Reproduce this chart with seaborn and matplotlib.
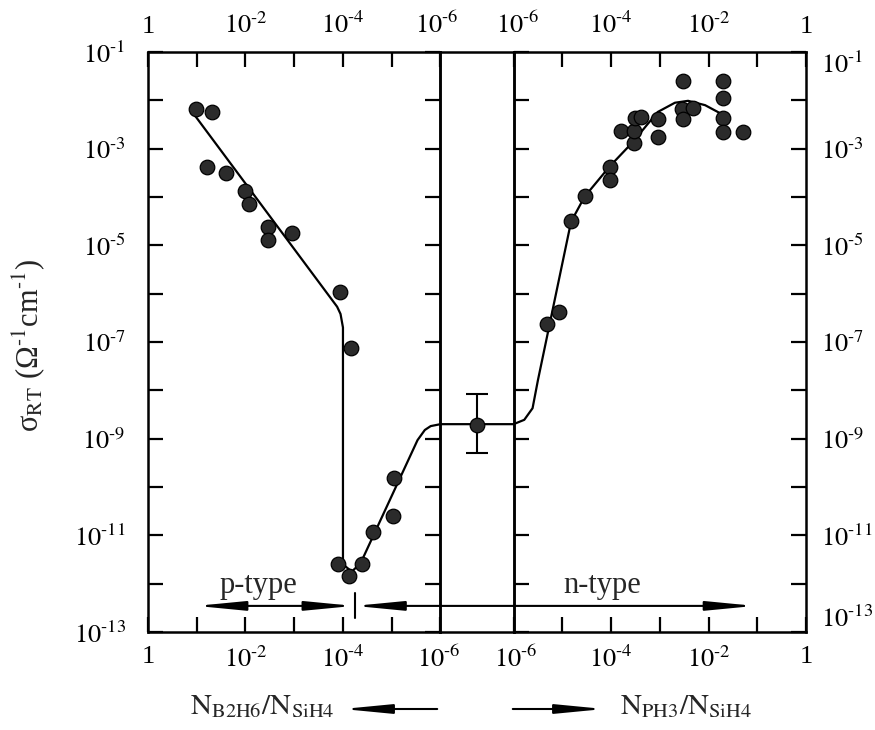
import numpy as np
import pandas as pd
import matplotlib
matplotlib.use("Agg")
import matplotlib.pyplot as plt
from matplotlib.ticker import FixedLocator, NullLocator, FixedFormatter
from matplotlib.transforms import ScaledTranslation
import seaborn as sns

# ---------------- data (log10 values) ----------------
# B2H6-doped films (p side): log10(N_B2H6/N_SiH4) and log10(sigma_RT)
b_log_ratio = [-0.99, -1.31, -1.22, -1.60, -1.98, -2.08, -2.46, -2.46, -2.96, -3.94, -4.16,
               -3.90, -4.12, -4.40, -4.62, -5.03, -5.05]
b_log_sigma = [-2.17, -2.25, -3.37, -3.50, -3.88, -4.15, -4.63, -4.88, -4.75, -5.96, -7.12,
               -11.60, -11.85, -11.60, -10.94, -10.60, -9.82]

# PH3-doped films (n side): log10(N_PH3/N_SiH4) and log10(sigma_RT)
p_log_ratio = [-5.31, -5.06, -4.82, -4.54, -4.03, -4.03, -3.53, -3.79, -3.53, -3.50, -3.38,
               -3.04, -3.04, -2.52, -2.54, -2.31, -2.52, -1.70, -1.70, -1.70, -1.70, -1.29]
p_log_sigma = [-6.63, -6.37, -4.50, -3.98, -3.37, -3.65, -2.89, -2.63, -2.63, -2.37, -2.35,
               -2.39, -2.75, -1.61, -2.17, -2.15, -2.39, -1.61, -1.96, -2.37, -2.65, -2.65]

# undoped film (with error bar)
undoped_log_sigma = -8.72
undoped_log_err = [-9.29, -8.08]

# guide curves
b_curve_log_ratio = [-0.90, -3.88, -3.95, -4.00, -4.00, -4.18, -4.36, -5.53, -5.68, -5.80, -6.00]
b_curve_log_sigma = [-2.23, -6.27, -6.42, -6.70, -11.60, -11.75, -11.58, -9.03, -8.82, -8.74, -8.70]
p_curve_log_ratio = [-6.00, -5.78, -5.61, -5.50, -4.82, -4.54, -4.03, -3.55, -3.24, -3.04,
                     -2.69, -2.42, -2.07, -1.70]
p_curve_log_sigma = [-8.70, -8.61, -8.37, -7.79, -4.51, -3.99, -3.37, -2.86, -2.48, -2.24,
                     -2.05, -2.01, -2.10, -2.30]

# conduction-type ranges (log10 ratio limits) and their level
ptype_b_range = [-0.99, -4.22]
ntype_b_start = -4.22
ntype_p_end = -1.05
type_arrow_log_sigma = -12.46
type_text_log_sigma = -12.19
ptype_text_b = -2.27
ntype_text_p = -4.18

# tick labels
x_tick_labels_b = ["1", "", r"$10^{\text{-}2}$", "", r"$10^{\text{-}4}$", "", r"$10^{\text{-}6}$"]
x_tick_labels_p = [r"$10^{\text{-}6}$", "", r"$10^{\text{-}4}$", "", r"$10^{\text{-}2}$", "", "1"]
y_exponents = list(range(-13, 0))

# ---------------- composite x-axis: B side | undoped gap | P side ----------------
DEC = 6.0          # decades on each side
GAP = 1.5          # width of the undoped panel (in decade units)
P0 = DEC + GAP     # position of 10^-6 on the P side


def pos_b(lr):
    return -np.asarray(lr, dtype=float)


def pos_p(lr):
    return P0 + DEC + np.asarray(lr, dtype=float)


points = pd.concat([
    pd.DataFrame({"pos": pos_b(b_log_ratio), "sigma": 10.0 ** np.asarray(b_log_sigma)}),
    pd.DataFrame({"pos": pos_p(p_log_ratio), "sigma": 10.0 ** np.asarray(p_log_sigma)}),
    pd.DataFrame({"pos": [DEC + GAP / 2], "sigma": [10.0 ** undoped_log_sigma]}),
], ignore_index=True)

curve = pd.concat([
    pd.DataFrame({"pos": pos_b(b_curve_log_ratio), "sigma": 10.0 ** np.asarray(b_curve_log_sigma)}),
    pd.DataFrame({"pos": pos_p(p_curve_log_ratio), "sigma": 10.0 ** np.asarray(p_curve_log_sigma)}),
], ignore_index=True)
curve["seg"] = 0

# ---------------- styling ----------------
sns.set_theme(style="white")
plt.rcParams["font.family"] = ["Liberation Serif", "DejaVu Serif"]
plt.rcParams["mathtext.fontset"] = "stix"
plt.rcParams["axes.linewidth"] = 1.8
plt.rcParams["axes.edgecolor"] = "black"

W, H = 875, 730
fig = plt.figure(figsize=(W / 100, H / 100), dpi=100)
fig.patch.set_facecolor("white")
gs = fig.add_gridspec(1, 3, width_ratios=[DEC, GAP, DEC], wspace=0,
                      left=148 / W, right=806 / W, bottom=1 - 632 / H, top=1 - 52 / H)
ax_l = fig.add_subplot(gs[0])
ax_g = fig.add_subplot(gs[1], sharey=ax_l)
ax_r = fig.add_subplot(gs[2], sharey=ax_l)
axes = [ax_l, ax_g, ax_r]
xlims = [(0, DEC), (DEC, P0), (P0, P0 + DEC)]

for ax, xl in zip(axes, xlims):
    ax.set_yscale("log")
    ax.patch.set_alpha(0)
    sns.lineplot(data=curve, x="pos", y="sigma", sort=False, estimator=None, units="seg",
                 color="black", lw=1.6, ax=ax, legend=False)
    sns.scatterplot(data=points, x="pos", y="sigma", s=110, color="#2b2b2b",
                    edgecolor="black", linewidth=0.9, ax=ax, legend=False, zorder=5)
    ax.set_xlim(*xl)
    ax.set_xlabel("")
    ax.set_ylabel("")
    for s in ax.spines.values():
        s.set_linewidth(1.8)

ax_l.set_ylim(1e-13, 1e-1)

# error bar of the undoped sample
ax_g.errorbar([DEC + GAP / 2], [10.0 ** undoped_log_sigma],
              yerr=[[10.0 ** undoped_log_sigma - 10.0 ** undoped_log_err[0]],
                    [10.0 ** undoped_log_err[1] - 10.0 ** undoped_log_sigma]],
              fmt="none", ecolor="black", elinewidth=1.5, capsize=8, capthick=1.5)

# ---------------- ticks ----------------
ytick_vals = [10.0 ** e for e in y_exponents]
ytick_labels = [rf"$10^{{\text{{-}}{-e}}}$" if e % 2 else "" for e in y_exponents]

tick_kw = dict(direction="in", length=11, width=1.6, labelsize=19, colors="black")

for ax in axes:
    ax.yaxis.set_minor_locator(NullLocator())
    ax.xaxis.set_minor_locator(NullLocator())

ax_l.yaxis.set_major_locator(FixedLocator(ytick_vals))
ax_l.yaxis.set_major_formatter(FixedFormatter(ytick_labels))

ax_l.set_xticks(np.arange(0, DEC + 0.5, 1.0))
ax_l.set_xticklabels(x_tick_labels_b)
ax_r.set_xticks(np.arange(P0, P0 + DEC + 0.5, 1.0))
ax_r.set_xticklabels(x_tick_labels_p)
ax_g.set_xticks([])

ax_l.tick_params(axis="y", left=True, right=True, labelleft=True, labelright=False, pad=16, **tick_kw)
ax_r.tick_params(axis="y", left=True, right=True, labelleft=False, labelright=True, pad=11, **tick_kw)
ax_g.tick_params(axis="y", left=False, right=False, labelleft=False, labelright=False)
for ax in (ax_l, ax_r):
    ax.tick_params(axis="x", top=True, bottom=True, labeltop=True, labelbottom=True, pad=10, **tick_kw)

fig.canvas.draw()
rticks = ax_r.yaxis.get_major_ticks()
rticks[-1].label2.set_va("top")
rticks[0].label2.set_va("bottom")

# nudge the two adjacent "10^-6" labels apart slightly (as in the original)
lt = ax_l.xaxis.get_major_ticks()[-1]
rt = ax_r.xaxis.get_major_ticks()[0]
for lab, dx in ((lt.label1, -2), (lt.label2, -4), (rt.label1, 2), (rt.label2, 4)):
    lab.set_transform(lab.get_transform() + ScaledTranslation(dx / 100, 0, fig.dpi_scale_trans))

# ---------------- conduction-type arrows ----------------
arrow_kw = dict(arrowstyle="<|-|>,head_length=2.9,head_width=0.28", mutation_scale=10,
                shrinkA=0, shrinkB=0, lw=1.5, color="black")
ya = 10.0 ** type_arrow_log_sigma
ax_r.annotate("", xy=(pos_b(ptype_b_range[0]), ya), xytext=(pos_b(ptype_b_range[1]), ya),
              xycoords="data", textcoords="data", arrowprops=arrow_kw, annotation_clip=False)
ax_r.annotate("", xy=(pos_b(ntype_b_start) + 0.02, ya), xytext=(pos_p(ntype_p_end), ya),
              xycoords="data", textcoords="data", arrowprops=arrow_kw, annotation_clip=False)
ax_l.plot([pos_b(ntype_b_start) + 0.02] * 2, [10.0 ** -12.19, 10.0 ** -12.71],
          color="black", lw=1.5, clip_on=False)
yt = 10.0 ** type_text_log_sigma
ax_l.text(pos_b(ptype_text_b), yt, "p-type", fontsize=22, ha="center", va="baseline")
ax_r.text(pos_p(ntype_text_p), yt, "n-type", fontsize=22, ha="center", va="baseline")

# ---------------- axis titles ----------------
fig.text(29 / W, 1 - 345 / H,
         "σ" + r"$_{\mathrm{RT}}$" + " (Ω" + r"$^{\text{-}1}$" + "cm" + r"$^{\text{-}1}$" + ")",
         rotation=90, ha="center", va="center", fontsize=22)
fig.text(334 / W, 1 - 714 / H, r"$\mathrm{N_{B2H6}/N_{SiH4}}$", ha="right", va="baseline", fontsize=21)
fig.text(620 / W, 1 - 714 / H, r"$\mathrm{N_{PH3}/N_{SiH4}}$", ha="left", va="baseline", fontsize=21)
fig.patches.append(matplotlib.patches.FancyArrowPatch(
    (440 / W, 1 - 709 / H), (340 / W, 1 - 709 / H), transform=fig.transFigure,
    arrowstyle="-|>,head_length=2.9,head_width=0.28", mutation_scale=10, lw=1.5, color="black"))
fig.patches.append(matplotlib.patches.FancyArrowPatch(
    (510 / W, 1 - 709 / H), (607 / W, 1 - 709 / H), transform=fig.transFigure,
    arrowstyle="-|>,head_length=2.9,head_width=0.28", mutation_scale=10, lw=1.5, color="black"))

fig.savefig("out.png", dpi=100, facecolor="white")
